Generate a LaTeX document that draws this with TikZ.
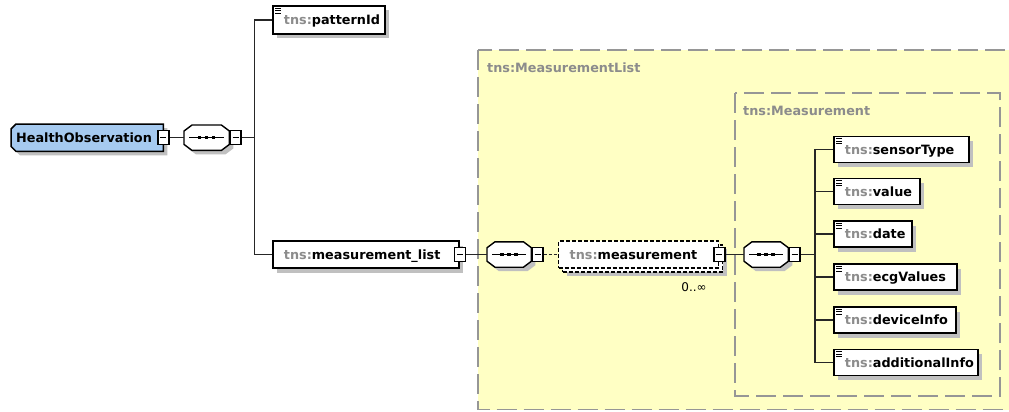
\documentclass[tikz,border=0pt]{standalone}
\usepackage{fontspec}
\setmainfont{DejaVu Sans}
\usetikzlibrary{shadows}
\definecolor{yel}{RGB}{255,255,196}
\definecolor{hoblue}{RGB}{166,202,240}
\definecolor{tnsgray}{RGB}{140,140,140}
\definecolor{framegray}{RGB}{150,150,150}
\definecolor{shad}{RGB}{192,192,192}
\newcommand{\tns}{\textcolor{tnsgray}{tns:}}
\newcommand{\octo}[4]{%
  \path[#4] ([shift={(8+#2,#3)}]#1.north west) -- ([shift={(-8+#2,#3)}]#1.north east)
    -- ([shift={(#2,6+#3)}]#1.north east) -- ([shift={(#2,-6+#3)}]#1.south east)
    -- ([shift={(-8+#2,#3)}]#1.south east) -- ([shift={(8+#2,#3)}]#1.south west)
    -- ([shift={(#2,-6+#3)}]#1.south west) -- ([shift={(#2,6+#3)}]#1.north west) -- cycle;}
\newcommand{\hoshape}[4]{%
  \path[#4] ([shift={(5+#2,#3)}]#1.north west) -- ([shift={(#2,#3)}]#1.north east)
    -- ([shift={(#2,#3)}]#1.south east) -- ([shift={(5+#2,#3)}]#1.south west)
    -- ([shift={(#2,-5+#3)}]#1.south west) -- ([shift={(#2,5+#3)}]#1.north west) -- cycle;}
\newcommand{\drawcomp}[1]{%
  \octo{#1}{4}{4}{fill=shad}%
  \octo{#1}{0}{0}{draw=black, line width=1.4pt, fill=white}%
  \draw[line width=1.4pt] ([xshift=5pt]#1.west) -- ([xshift=-5pt]#1.east);%
  \fill ([shift={(-8.75,-1.75)}]#1.center) rectangle ++(3.5,3.5);%
  \fill ([shift={(-1.75,-1.75)}]#1.center) rectangle ++(3.5,3.5);%
  \fill ([shift={(5.25,-1.75)}]#1.center) rectangle ++(3.5,3.5);}
\newcommand{\elicon}[1]{%
  \draw[line width=0.9pt] ([shift={(3,3)}]#1.north west) -- ++(6,0)
    ([shift={(3,5.5)}]#1.north west) -- ++(6,0)
    ([shift={(3,8)}]#1.north west) -- ++(6,0);}
\tikzset{
  lbl/.style={font=\fontsize{12.8}{15}\selectfont\bfseries, text height=9pt, text depth=0pt},
  elembox/.style={lbl, draw=black, line width=1.8pt, fill=white, rectangle, inner sep=0pt, align=left,
    drop shadow={shadow xshift=4.5pt, shadow yshift=-4.5pt, fill=shad, opacity=1}},
  measbox/.style={lbl, draw=black, line width=1.4pt, dash pattern=on 4pt off 2pt, fill=white, rectangle,
    inner sep=0pt, align=left,
    drop shadow={shadow xshift=8pt, shadow yshift=-8pt, fill=shad, opacity=1},
    copy shadow={shadow xshift=4pt, shadow yshift=-4pt, draw=black, fill=white}},
  minusbox/.style={draw=black, line width=1.2pt, fill=white, rectangle, inner sep=0pt,
    minimum width=11pt, minimum height=14pt,
    path picture={\draw[line width=1.2pt] ([xshift=2.5pt]path picture bounding box.west) -- ([xshift=-2.5pt]path picture bounding box.east);}},
  compnode/.style={rectangle, draw=none, inner sep=0pt, minimum width=45pt, minimum height=25pt},
  conn/.style={line width=1.5pt, draw=black!85},
  region/.style={draw=framegray, line width=1.5pt, dash pattern=on 20pt off 7pt},
}
\begin{document}
\begin{tikzpicture}[x=1pt,y=-1pt]
\useasboundingbox (0,0) rectangle (1009,412);
\clip (0,0) rectangle (1009,412);
\fill[white] (0,0) rectangle (1009,412);
% regions
\draw[region, fill=yel] (478,50) rectangle (1030,409.5);
\draw[region] (735,93) rectangle (1000,396);
\node[lbl, text=tnsgray, anchor=west, inner sep=0pt] (tl1) at (487,68) {tns:MeasurementList};
\node[lbl, text=tnsgray, anchor=west, inner sep=0pt] (tl2) at (743,111) {tns:Measurement};
% root
\node[compnode, minimum width=152pt, minimum height=27pt, anchor=north west] (HO) at (11,124) {};
\hoshape{HO}{4}{4}{fill=shad}
\hoshape{HO}{0}{0}{draw=black, line width=1.5pt, fill=hoblue}
\node[lbl, anchor=west, inner sep=0pt] (HOlabel) at ([xshift=5pt]HO.west) {HealthObservation};
\node[minusbox] (m0) at (HO.east) {};
\node[compnode, anchor=west] (sq1) at ([xshift=14.5pt]m0.east) {};
\drawcomp{sq1}
\node[minusbox, anchor=west] (s1m) at (sq1.east) {};
\coordinate (t1) at ([xshift=13pt]s1m.east);
% level 1
\node[elembox, text width=112pt, minimum height=28pt, anchor=north west] (pat) at (272,5) {\hspace*{11pt}\tns{}patternId};
\elicon{pat}
\node[elembox, text width=186pt, minimum height=27pt, anchor=west] (mlist) at (272,254.5) {\hspace*{11pt}\tns{}measurement\_list};
\node[minusbox] (m1) at (mlist.east) {};
\node[compnode, anchor=west, minimum width=44pt] (sq2) at (487,254.5) {};
\drawcomp{sq2}
\node[minusbox, anchor=west] (s2m) at (sq2.east) {};
\node[measbox, text width=160pt, minimum height=27pt, anchor=west] (meas) at (558,254.5) {\hspace*{11pt}\tns{}measurement};
\node[minusbox] (m2) at (meas.east) {};
\node[font=\fontsize{12}{14}\selectfont, inner sep=0pt] (mult) at (694,287) {0..∞};
\node[compnode, anchor=west, minimum width=44pt] (sq3) at (744,254.5) {};
\drawcomp{sq3}
\node[minusbox, anchor=west] (s3m) at (sq3.east) {};
\coordinate (t2) at (815,254.5);
% children
\node[elembox, text width=135pt, minimum height=26pt, anchor=west] (c1) at (833,149.5) {\hspace*{11pt}\tns{}sensorType};
\node[elembox, text width=86pt, minimum height=26pt, anchor=west] (c2) at (833,191.5) {\hspace*{11pt}\tns{}value};
\node[elembox, text width=78pt, minimum height=26pt, anchor=west] (c3) at (833,234) {\hspace*{11pt}\tns{}date};
\node[elembox, text width=123pt, minimum height=26pt, anchor=west] (c4) at (833,277) {\hspace*{11pt}\tns{}ecgValues};
\node[elembox, text width=122pt, minimum height=26pt, anchor=west] (c5) at (833,320) {\hspace*{11pt}\tns{}deviceInfo};
\node[elembox, text width=144pt, minimum height=26pt, anchor=west] (c6) at (833,362.5) {\hspace*{11pt}\tns{}additionalInfo};
\foreach \c in {c1,c2,c3,c4,c5,c6} {\elicon{\c}}
% connectors
\draw[conn] (m0.east) -- (sq1.west);
\draw[conn] (s1m.east) -- (t1);
\draw[conn] (t1) |- (pat.west);
\draw[conn] (t1) |- (mlist.west);
\draw[conn] (m1.east) -- (sq2.west);
\draw[conn, dash pattern=on 3pt off 2pt] (s2m.east) -- (meas.west);
\draw[conn] (m2.east) -- (sq3.west);
\draw[conn] (s3m.east) -- (t2);
\foreach \c in {c1,c2,c3,c4,c5,c6} {\draw[conn] (t2) |- (\c.west);}
\end{tikzpicture}
\end{document}
